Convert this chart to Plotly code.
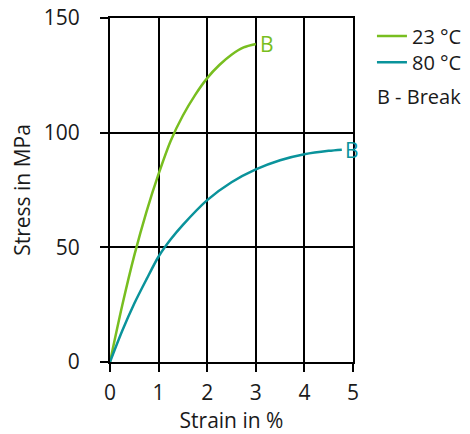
import plotly.graph_objects as go

# Data
strain_23 = [0, 0.25, 0.5, 0.75, 1.0, 1.25, 1.5, 1.75, 2.0, 2.25, 2.5, 2.75, 3.0]
stress_23 = [0, 24.5, 46.5, 65.5, 82, 96.5, 107.5, 116.4, 123.8, 129.5, 134, 137.2, 138.7]

strain_80 = [0, 0.25, 0.5, 0.75, 1.0, 1.25, 1.5, 2.0, 2.5, 3.0, 3.5, 4.0, 4.5, 4.77]
stress_80 = [0, 13.5, 25.5, 36, 46, 53.5, 59.8, 70.6, 78.4, 84, 88, 90.6, 92.1, 92.6]

series_names = ["23 °C", "80 °C"]
series_colors = ["#78BE20", "#0A939B"]
break_label = "B"
legend_note = "B - Break"

x_ticks = [0, 1, 2, 3, 4, 5]
y_ticks = [0, 50, 100, 150]

FONT = "Open Sans"
TXT = "#1a1a1a"
TICK_SIZE = 21
TEXT_SIZE = 21
SIDE_SIZE = 20

fig = go.Figure()
traces = [(strain_23, stress_23, series_names[0], series_colors[0], "legend", 2),
          (strain_80, stress_80, series_names[1], series_colors[1], "legend2", 1)]
for xs, ys, name, col, leg, shift in traces:
    fig.add_trace(go.Scatter(x=xs, y=ys, mode="lines", name=name, legend=leg,
                             line=dict(color=col, width=2.5, shape="spline", smoothing=0.8)))
    fig.add_annotation(x=xs[-1], y=ys[-1], text=break_label, showarrow=False,
                       xanchor="left", yanchor="middle", xshift=shift,
                       font=dict(family=FONT, size=TEXT_SIZE, color=col))

fig.add_annotation(xref="paper", yref="paper", x=1.092, y=0.771, text=legend_note,
                   showarrow=False, xanchor="left", yanchor="middle",
                   font=dict(family=FONT, size=SIDE_SIZE, color=TXT))

axis_common = dict(showline=True, linecolor="black", linewidth=2, mirror=True,
                   ticks="outside", ticklen=8, tickwidth=2, tickcolor="black",
                   showgrid=True, gridcolor="black", gridwidth=2, zeroline=False,
                   automargin=False, ticklabeloverflow="allow",
                   tickfont=dict(family=FONT, size=TICK_SIZE, color=TXT))

fig.update_xaxes(range=[0, 5], tickvals=x_ticks, ticklabelstandoff=3,
                 title=dict(text="Strain in %", standoff=20,
                            font=dict(family=FONT, size=TEXT_SIZE, color=TXT)),
                 **axis_common)
fig.update_yaxes(range=[0, 150], tickvals=y_ticks, ticklabelstandoff=16,
                 title=dict(text="Stress in MPa", standoff=8,
                            font=dict(family=FONT, size=TEXT_SIZE, color=TXT)),
                 **axis_common)

legend_common = dict(xanchor="left", yanchor="top",
                     font=dict(family=FONT, size=SIDE_SIZE, color=TXT),
                     bgcolor="rgba(0,0,0,0)", itemwidth=30)

fig.update_layout(
    width=470, height=426,
    margin=dict(l=102, r=125, t=10, b=72, autoexpand=False),
    plot_bgcolor="white", paper_bgcolor="white",
    font=dict(family=FONT, size=TEXT_SIZE, color=TXT),
    legend=dict(x=1.078, y=1.004, **legend_common),
    legend2=dict(x=1.078, y=0.928, **legend_common),
    showlegend=True,
)

fig.write_html("out.html")
